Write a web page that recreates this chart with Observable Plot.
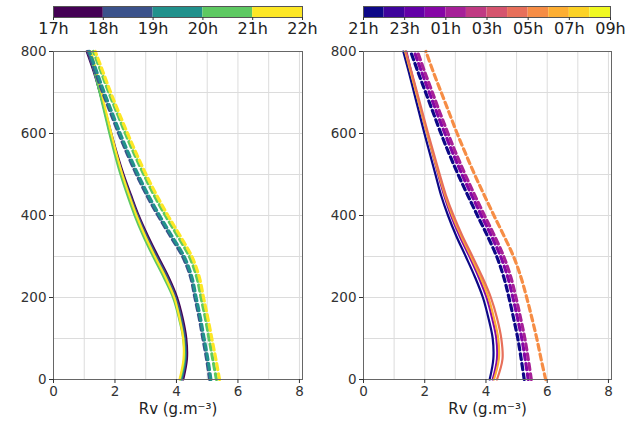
<!DOCTYPE html>
<html><head><meta charset="utf-8">
<script src="https://cdn.jsdelivr.net/npm/d3@7"></script>
<script src="https://cdn.jsdelivr.net/npm/@observablehq/plot@0.6"></script>
<style>
body{margin:0;background:#fff;}
#wrap{position:relative;width:637px;height:424px;font-family:"DejaVu Sans",sans-serif;}
#wrap > *{position:absolute;}
</style></head><body><div id="wrap"></div>
<script>
// Altitude (m) of each profile point
const heights = [0,50,100,150,200,250,300,350,400,450,500,550,600,650,700,750,800];

// Left panel, solid profiles (Rv g.m-3)
const leftSolid17h = [4.22,4.34,4.32,4.20,4.02,3.74,3.40,3.07,2.77,2.52,2.28,2.07,1.88,1.70,1.51,1.31,1.08];
const leftSolid18h = [4.18,4.30,4.28,4.16,3.98,3.70,3.36,3.03,2.74,2.49,2.25,2.04,1.86,1.69,1.51,1.33,1.12];
const leftSolid19h = [4.15,4.27,4.24,4.11,3.93,3.64,3.30,2.98,2.69,2.45,2.22,2.02,1.84,1.68,1.51,1.34,1.15];
const leftSolid20h = [4.12,4.25,4.22,4.08,3.89,3.58,3.24,2.92,2.64,2.40,2.18,1.99,1.82,1.66,1.50,1.34,1.17];
const leftSolid21h = [4.10,4.23,4.22,4.10,3.93,3.64,3.30,2.98,2.70,2.46,2.24,2.05,1.88,1.72,1.56,1.40,1.22];
// Left panel, dashed profiles
const leftDash18h = [5.08,4.98,4.86,4.74,4.60,4.46,4.20,3.80,3.40,3.03,2.70,2.40,2.12,1.86,1.60,1.36,1.12];
const leftDash19h = [5.12,5.02,4.90,4.78,4.64,4.50,4.25,3.85,3.45,3.08,2.75,2.45,2.17,1.91,1.65,1.41,1.17];
const leftDash20h = [5.30,5.18,5.06,4.94,4.80,4.66,4.42,4.04,3.64,3.27,2.94,2.63,2.34,2.07,1.80,1.55,1.30];
const leftDash21h = [5.40,5.28,5.15,5.02,4.88,4.74,4.50,4.12,3.72,3.35,3.01,2.70,2.41,2.13,1.86,1.61,1.36];

// Right panel, solid profiles
const rightSolid21h = [4.12,4.24,4.22,4.08,3.90,3.64,3.34,3.03,2.76,2.53,2.35,2.17,1.99,1.82,1.65,1.48,1.30];
const rightSolid00h = [4.22,4.36,4.34,4.20,4.02,3.76,3.46,3.14,2.86,2.63,2.44,2.26,2.08,1.90,1.73,1.56,1.40];
const rightSolid07h = [4.26,4.42,4.40,4.26,4.08,3.82,3.51,3.19,2.90,2.66,2.46,2.27,2.08,1.90,1.72,1.54,1.36];
const rightSolid04h = [4.36,4.54,4.50,4.36,4.16,3.88,3.56,3.23,2.94,2.69,2.49,2.30,2.11,1.93,1.75,1.57,1.38];
// Right panel, dashed profiles
const rightDash21h = [5.25,5.15,5.04,4.90,4.75,4.58,4.35,4.05,3.72,3.40,3.09,2.80,2.53,2.28,2.03,1.78,1.54];
const rightDash00h = [5.38,5.28,5.17,5.03,4.88,4.71,4.48,4.18,3.85,3.53,3.22,2.93,2.66,2.40,2.15,1.90,1.66];
const rightDash01h = [5.48,5.38,5.27,5.13,4.98,4.81,4.58,4.28,3.95,3.63,3.32,3.03,2.76,2.50,2.25,2.00,1.76];
const rightDash05h = [5.95,5.80,5.66,5.50,5.33,5.14,4.90,4.59,4.26,3.94,3.63,3.34,3.06,2.80,2.54,2.28,2.04];

// Colour bar labels
const leftBarLabels = ["17h","18h","19h","20h","21h","22h"];
const rightBarLabels = ["21h","23h","01h","03h","05h","07h","09h"];
const rightBinCount = 12;

const leftColor = i => d3.interpolateViridis(i / (leftBarLabels.length - 2));
const rightColor = i => d3.interpolatePlasma(i / (rightBinCount - 1));

// series: [values, colour bin]
const leftSolids = [[leftSolid17h,0],[leftSolid18h,1],[leftSolid19h,2],[leftSolid20h,3],[leftSolid21h,4]];
const leftDashes = [[leftDash18h,1],[leftDash19h,2],[leftDash20h,3],[leftDash21h,4]];
const rightSolids = [[rightSolid21h,0],[rightSolid00h,3],[rightSolid07h,9],[rightSolid04h,7]];
const rightDashes = [[rightDash21h,0],[rightDash00h,3],[rightDash01h,4],[rightDash05h,8]];

const wrap = document.getElementById("wrap");
const baseStyle = {background:"transparent", fontFamily:"DejaVu Sans, sans-serif", color:"#333"};

function panel(solids, dashes, color, width, ml, mr) {
  const lineMarks = [];
  for (const [vals, bin] of solids)
    lineMarks.push(Plot.line(vals, {x: d => d, y: (d, i) => heights[i], stroke: color(bin), strokeWidth: 2.2, curve: "catmull-rom"}));
  for (const [vals, bin] of dashes)
    lineMarks.push(Plot.line(vals, {x: d => d, y: (d, i) => heights[i], stroke: color(bin), strokeWidth: 3.2, strokeDasharray: "6,4", curve: "catmull-rom"}));
  return Plot.plot({
    width, height: 424, marginLeft: ml, marginRight: mr, marginTop: 51, marginBottom: 45,
    style: {...baseStyle, fontSize: "13px"},
    x: {domain: [0, 8.1]},
    y: {domain: [0, 800]},
    marks: [
      Plot.gridX(d3.range(0, 9), {stroke: "#dcdcdc", strokeOpacity: 1}),
      Plot.gridY(d3.range(0, 801, 100), {stroke: "#dcdcdc", strokeOpacity: 1}),
      ...lineMarks,
      Plot.frame({stroke: "#666"}),
      Plot.axisX([0, 2, 4, 6, 8], {tickSize: 4, tickPadding: 3, label: null, fontSize: 13.5}),
      Plot.axisY([0, 200, 400, 600, 800], {tickSize: 4, tickPadding: 3, label: null, fontSize: 13.5}),
      Plot.text(["Rv (g.m⁻³)"], {frameAnchor: "bottom", dy: 34, fontSize: 15, fill: "#222"})
    ]
  });
}

function colorbar(nBins, labels, color, width, ml, mr) {
  const bins = d3.range(nBins);
  const step = nBins / (labels.length - 1);
  return Plot.plot({
    width, height: 42, marginLeft: ml, marginRight: mr, marginTop: 6, marginBottom: 25,
    style: {...baseStyle, fontSize: "16px"},
    x: {domain: [0, nBins]},
    y: {domain: [0, 1], axis: null},
    marks: [
      Plot.rect(bins, {x1: d => d, x2: d => d + 1, y1: 0, y2: 1, fill: d => color(d)}),
      Plot.frame({stroke: "#555"}),
      Plot.axisX(d3.range(0, nBins + 1, step), {tickSize: 3, tickPadding: 2, fontSize: 16, fill: "#222", label: null, tickFormat: d => labels[Math.round(d / step)]})
    ]
  });
}

function place(el, left, top) { el.style.left = left + "px"; el.style.top = top + "px"; wrap.appendChild(el); }

place(panel(leftSolids, leftDashes, leftColor, 318, 53, 16), 0, 0);
place(panel(rightSolids, rightDashes, rightColor, 319, 45, 26), 318, 0);
place(colorbar(leftBarLabels.length - 1, leftBarLabels, leftColor, 318, 53, 16), 0, 0);
place(colorbar(rightBinCount, rightBarLabels, rightColor, 319, 45, 27), 318, 0);
</script></body></html>
